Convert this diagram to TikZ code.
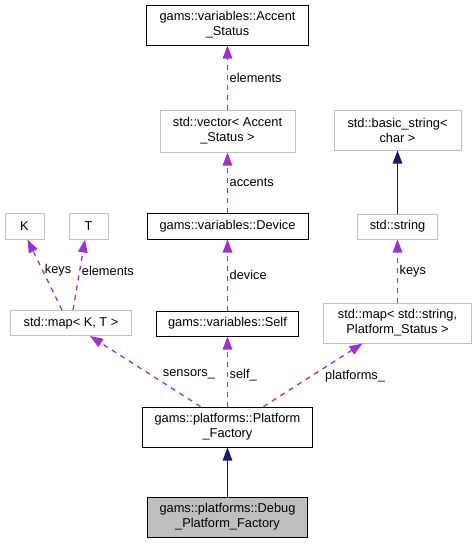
\documentclass[tikz,border=0pt]{standalone}
\usepackage{fontspec}
\setmainfont{Liberation Sans}
\usetikzlibrary{arrows.meta,positioning}
\definecolor{edgePurple}{HTML}{9A32CD}
\definecolor{edgeNavy}{HTML}{191970}
\definecolor{boxGray}{HTML}{BFBFBF}

\begin{document}
\begin{tikzpicture}[x=1pt, y=-1pt,
    classbox/.style={draw=black, line width=1pt, inner sep=0pt, align=center, font=\fontsize{12.8}{15}\selectfont},
    stdbox/.style={classbox, draw=boxGray},
    usage/.style={-{Triangle[length=13pt,width=9.5pt]}, edgePurple, line width=1.3pt, dash pattern=on 5pt off 5pt},
    inherit/.style={-{Triangle[length=13pt,width=9.5pt]}, edgeNavy, line width=1.2pt},
    lbl/.style={font=\fontsize{12.8}{15}\selectfont, inner sep=2pt}]
        \useasboundingbox (0,0) rectangle (475,544);
        % classes
        \node[classbox, minimum width=162pt, minimum height=40pt] (acc) at (227.5,25) {gams::variables::Accent\\\_Status};
        \node[stdbox, minimum width=135pt, minimum height=42pt] (vec) at (227.5,131) {std::vector< Accent\\\_Status >};
        \node[classbox, minimum width=161pt, minimum height=26pt] (dev) at (227.5,226) {gams::variables::Device};
        \node[stdbox, minimum width=39pt, minimum height=26pt] (k) at (24.5,226) {K};
        \node[stdbox, minimum width=39pt, minimum height=26pt] (t) at (88.5,226) {T};
        \node[stdbox, minimum width=121pt, minimum height=25pt] (mapkt) at (71,323) {std::map< K, T >};
        \node[classbox, minimum width=142pt, minimum height=25pt] (self) at (227.5,323.5) {gams::variables::Self};
        \node[stdbox, minimum width=127pt, minimum height=40pt] (bstr) at (397.5,130) {std::basic\_string<\\char >};
        \node[stdbox, minimum width=80pt, minimum height=25pt] (str) at (397.5,226.5) {std::string};
        \node[stdbox, minimum width=148pt, minimum height=40pt] (mapstr) at (397.5,323) {std::map< std::string,\\Platform\_Status >};
        \node[classbox, minimum width=170pt, minimum height=40pt] (fac) at (227.5,427) {gams::platforms::Platform\\\_Factory};
        \node[classbox, fill=boxGray, minimum width=160pt, minimum height=40pt] (dbg) at (227.5,517) {gams::platforms::Debug\\\_Platform\_Factory};
        % connectors
        \draw[usage] (vec.north) -- (acc.south);
        \draw[usage] (dev.north) -- (vec.south);
        \draw[usage] (self.north) -- (dev.south);
        \draw[usage] (fac.north) -- (self.south);
        \draw[usage] ([xshift=-27pt]fac.north) -- ([xshift=19pt]mapkt.south);
        \draw[usage] ([xshift=36pt]fac.north) -- ([xshift=-35pt]mapstr.south);
        \draw[usage] ([xshift=-9pt]mapkt.north) -- ([xshift=3pt]k.south);
        \draw[usage] ([xshift=2pt]mapkt.north) -- ([xshift=-3.5pt]t.south);
        \draw[usage] (mapstr.north) -- (str.south);
        \draw[inherit] (str.north) -- (bstr.south);
        \draw[inherit] (dbg.north) -- (fac.south);
        % connector labels
        \path (vec.north) -- node[lbl, right] {elements} (acc.south);
        \path (dev.north) -- node[lbl, right] {accents} (vec.south);
        \path (self.north) -- node[lbl, right] {device} (dev.south);
        \path (fac.north) -- node[lbl, right, pos=0.45] {self\_} (self.south);
        \path ([xshift=-27pt]fac.north) -- node[lbl, anchor=west, pos=0.45, xshift=10pt] {sensors\_} ([xshift=19pt]mapkt.south);
        \path ([xshift=36pt]fac.north) -- node[lbl, anchor=west, pos=0.48, xshift=12pt] {platforms\_} ([xshift=-35pt]mapstr.south);
        \path ([xshift=-9pt]mapkt.north) -- node[lbl, anchor=west, pos=0.56] {keys} ([xshift=3pt]k.south);
        \path ([xshift=2pt]mapkt.north) -- node[lbl, anchor=west, pos=0.56] {elements} ([xshift=-3.5pt]t.south);
        \path (mapstr.north) -- node[lbl, right] {keys} (str.south);
      \end{tikzpicture}
\end{document}
